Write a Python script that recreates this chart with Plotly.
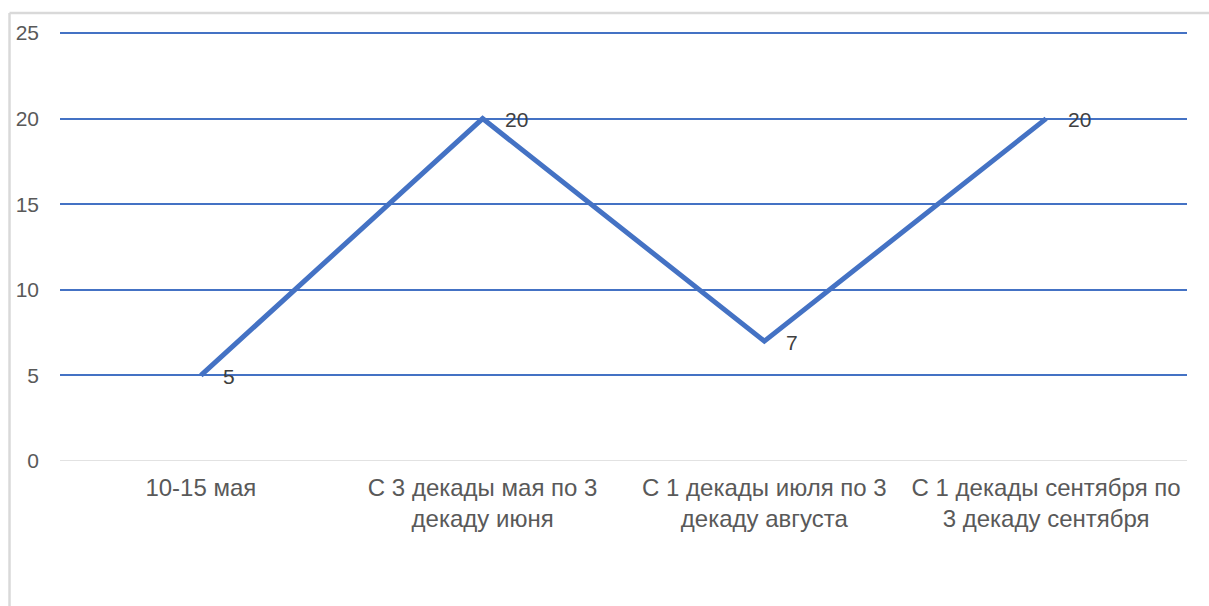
import plotly.graph_objects as go

# Data
categories = [
    "10-15 мая",
    "С 3 декады мая по 3<br>декаду июня",
    "С 1 декады июля по 3<br>декаду августа",
    "С 1 декады сентября по<br>3 декаду сентября",
]
values = [5, 20, 7, 20]
y_ticks = [0, 5, 10, 15, 20, 25]

BLUE = "#4472C4"
TEXT = "#595959"
BORDER = "#D9D9D9"
FONT = "Liberation Sans, Arial, sans-serif"

fig = go.Figure()

# Zero line drawn as a gray baseline
fig.add_trace(go.Scatter(
    x=[-0.5, len(categories) - 0.5], y=[0, 0],
    mode="lines", line=dict(color=BORDER, width=1.5),
    xaxis="x2", hoverinfo="skip", showlegend=False,
))

fig.add_trace(go.Scatter(
    x=categories, y=values,
    mode="lines",
    line=dict(color=BLUE, width=5),
    showlegend=False,
))

# Value labels to the right of each point
for c, v in zip(categories, values):
    fig.add_annotation(
        x=c, y=v, text=str(v), showarrow=False,
        xanchor="left", yanchor="middle", xshift=20, yshift=-1,
        font=dict(family=FONT, size=21, color="#404040"),
    )

# Chart-area border (top and left edges)
fig.add_shape(type="line", xref="paper", yref="paper",
              x0=-0.0448, x1=1.03, y0=1.0443, y1=1.0443,
              line=dict(color=BORDER, width=2.5))
fig.add_shape(type="line", xref="paper", yref="paper",
              x0=-0.0448, x1=-0.0448, y0=1.0443, y1=-0.4,
              line=dict(color=BORDER, width=2.5))

fig.update_layout(
    width=1209, height=606, autosize=False,
    margin=dict(l=60, r=22, t=32, b=145),
    plot_bgcolor="white", paper_bgcolor="white",
    font=dict(family=FONT, size=21, color=TEXT),
    xaxis=dict(
        type="category", range=[-0.5, len(categories) - 0.5],
        showgrid=False, zeroline=False, showline=False, ticks="",
        ticklabelstandoff=10,
        tickfont=dict(family=FONT, size=24, color=TEXT),
    ),
    xaxis2=dict(
        overlaying="x", range=[-0.5, len(categories) - 0.5],
        visible=False,
    ),
    yaxis=dict(
        range=[0, 25.06], tickvals=y_ticks,
        showgrid=True, gridcolor=BLUE, gridwidth=1.5,
        zeroline=False, showline=False, ticks="",
        ticklabelstandoff=20,
        tickfont=dict(family=FONT, size=21, color=TEXT),
    ),
)

fig.write_html("out.html")
